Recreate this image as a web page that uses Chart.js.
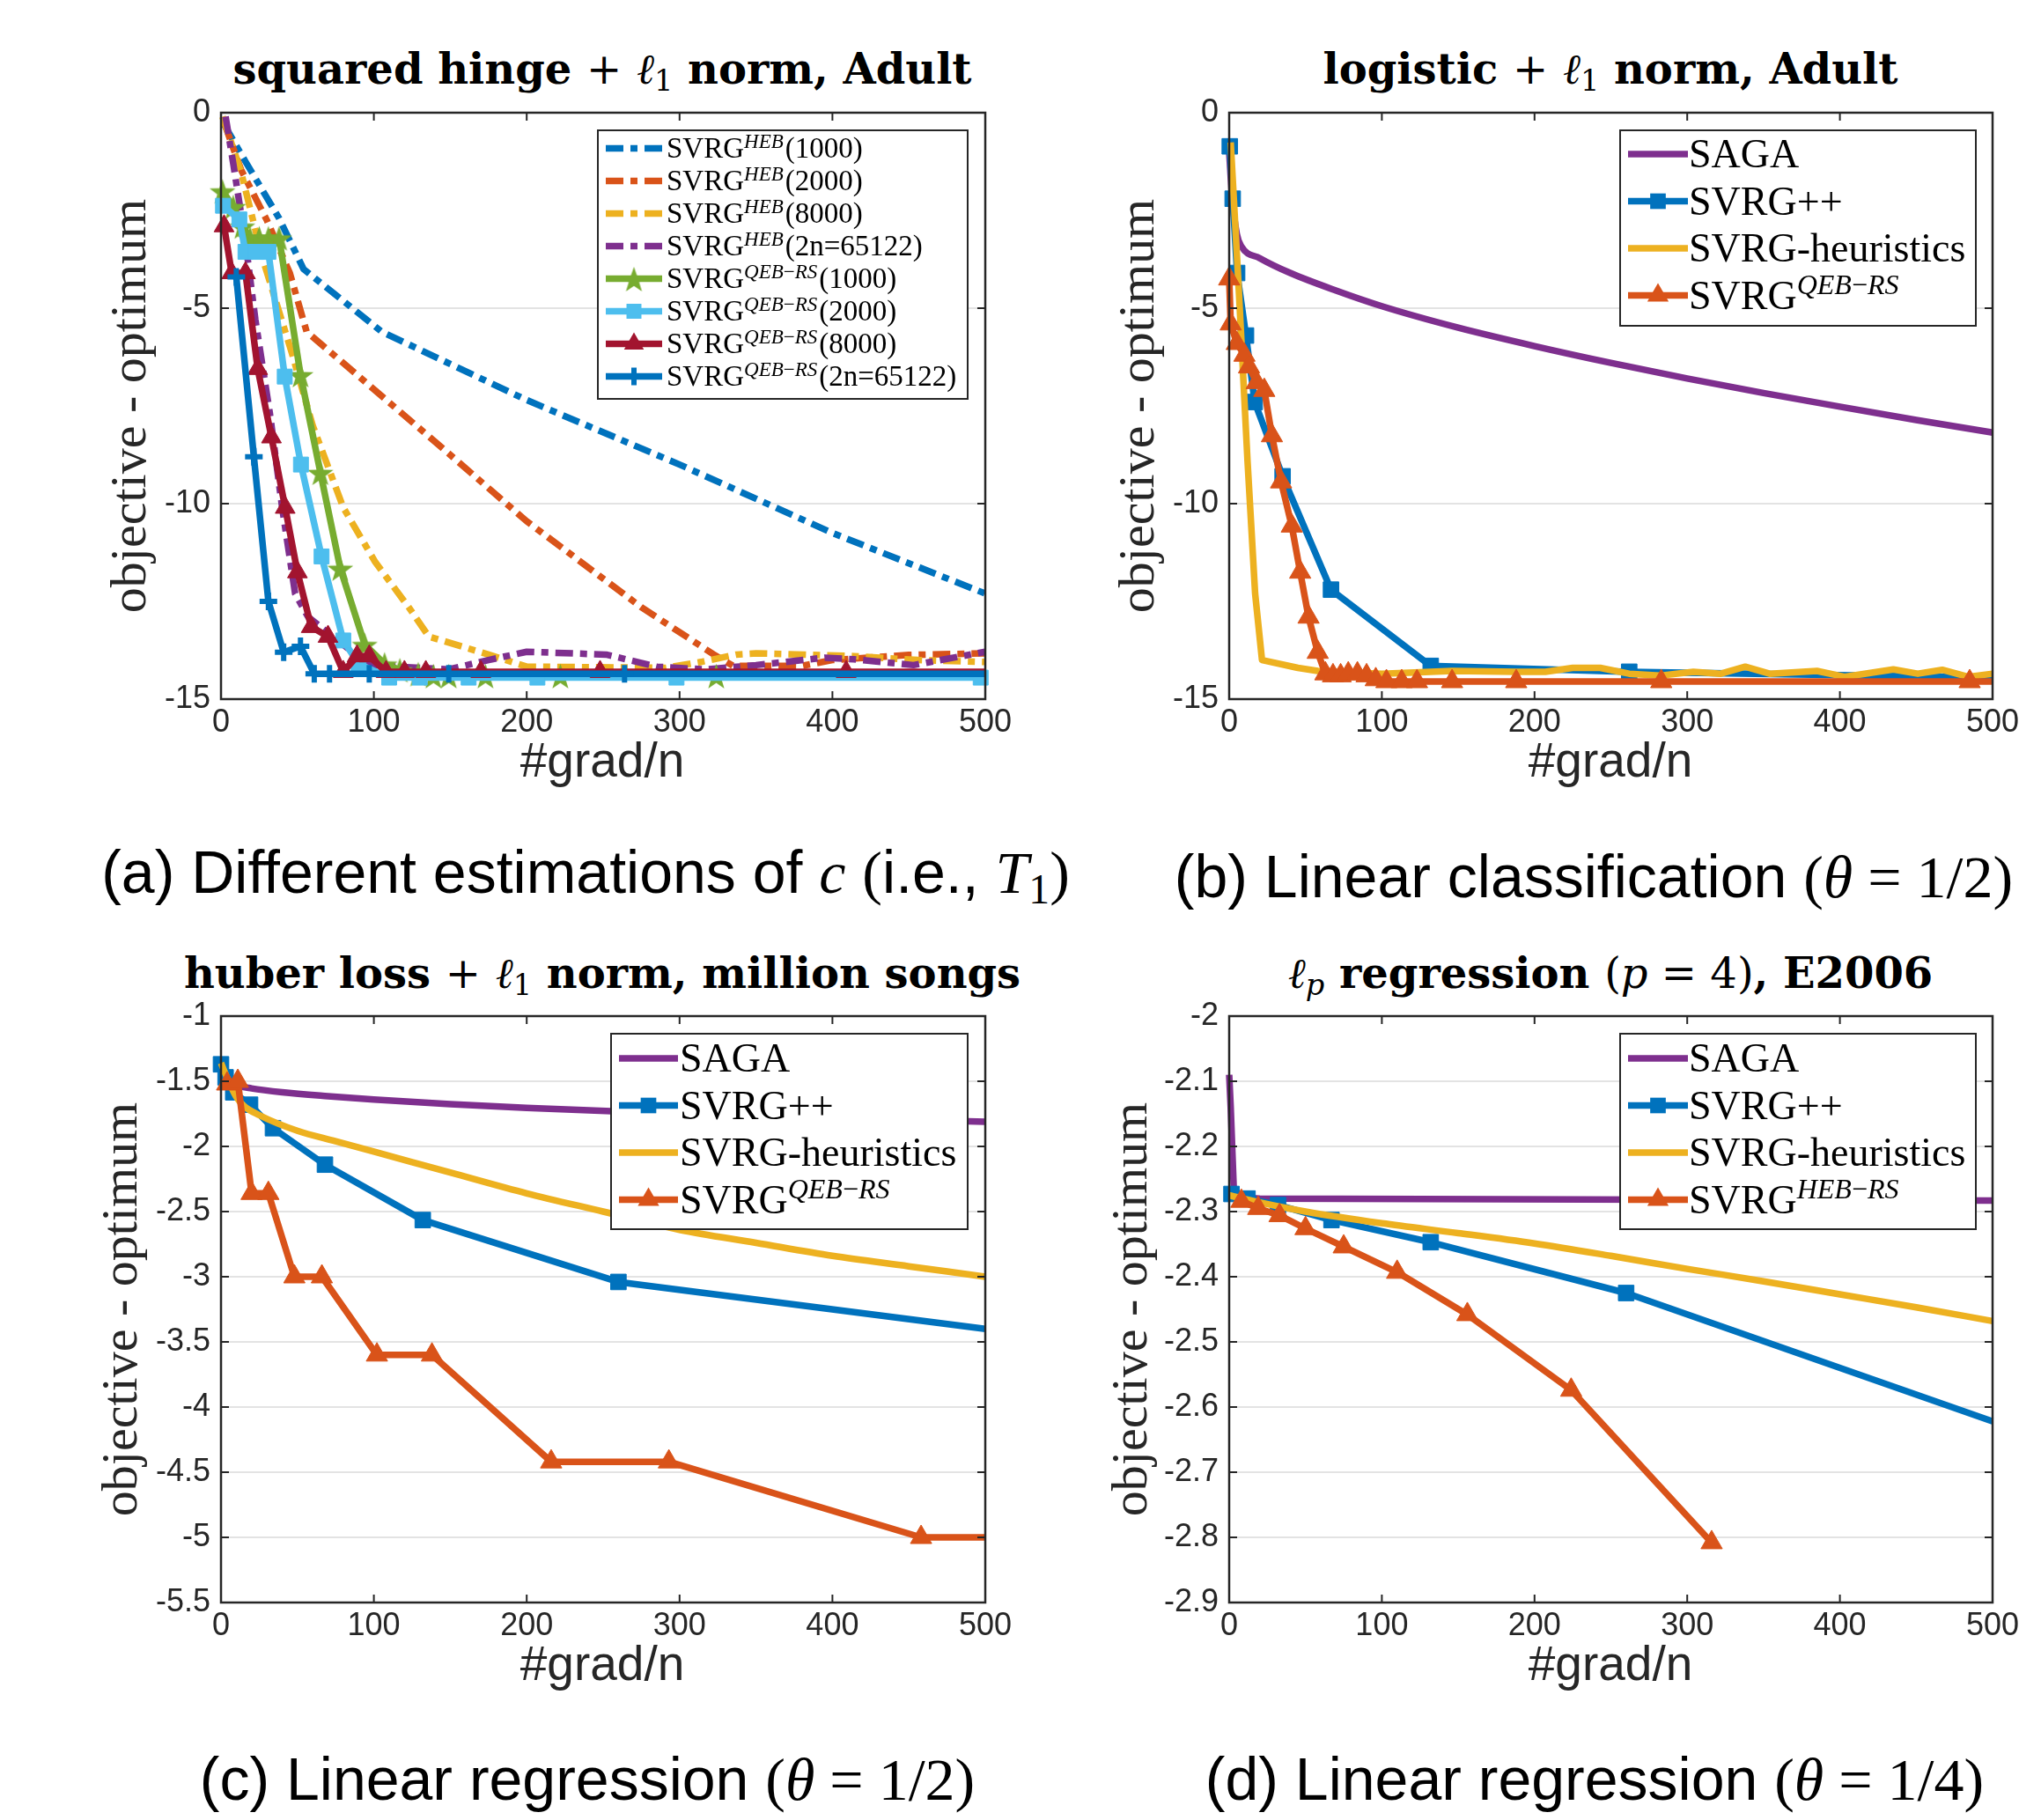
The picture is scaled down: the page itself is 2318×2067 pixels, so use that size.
<!DOCTYPE html>
<html><head><meta charset="utf-8">
<script src="https://cdn.jsdelivr.net/npm/chart.js@4.4.1/dist/chart.umd.min.js"></script>
<style>
html,body{margin:0;padding:0;background:#fff}
body{width:2318px;height:2067px;position:relative;overflow:hidden}
canvas{position:absolute}
.tx{position:absolute;white-space:nowrap;transform:translate(-50%,-50%);line-height:1;color:#000}
.title{font-family:"DejaVu Serif";font-weight:bold;font-size:48px}
.title .m{font-weight:normal}
.title .mi{font-weight:normal;font-style:italic}
.title sub{font-size:0.7em;font-weight:normal;vertical-align:-0.25em}
.ylab{font-family:"Liberation Serif";font-size:58px;color:#262626;transform:translate(-50%,-50%) rotate(-90deg)}
.xlab{font-family:"Liberation Sans";font-size:55px;color:#262626}
.cap{font-family:"Liberation Sans";font-size:68px}
.cap .s{font-family:"Liberation Serif"}
.cap sub{font-size:0.7em;vertical-align:-0.25em}
</style></head><body>
<div class="tx title" style="left:684px;top:81px">squared hinge <span class="m">+</span> <span class="mi">ℓ</span><sub>1</sub> norm, Adult</div>
<div class="tx title" style="left:1829px;top:81px">logistic <span class="m">+</span> <span class="mi">ℓ</span><sub>1</sub> norm, Adult</div>
<div class="tx title" style="left:684px;top:1108px">huber loss <span class="m">+</span> <span class="mi">ℓ</span><sub>1</sub> norm, million songs</div>
<div class="tx title" style="left:1829px;top:1108px"><span class="mi">ℓ</span><sub style="font-style:italic">p</sub> regression <span class="m">(<i>p</i> = 4)</span>, E2006</div>

<div class="tx ylab" style="left:146px;top:461px">objective - optimum</div>
<div class="tx ylab" style="left:1291px;top:461px">objective - optimum</div>
<div class="tx ylab" style="left:136px;top:1487px">objective - optimum</div>
<div class="tx ylab" style="left:1283px;top:1487px">objective - optimum</div>

<div class="tx xlab" style="left:684px;top:863px">#grad/n</div>
<div class="tx xlab" style="left:1829px;top:863px">#grad/n</div>
<div class="tx xlab" style="left:684px;top:1889px">#grad/n</div>
<div class="tx xlab" style="left:1829px;top:1889px">#grad/n</div>

<div class="tx cap" style="left:665px;top:995px">(a) Different estimations of <i class="s">c</i> <span class="s">(</span>i.e., <i class="s">T</i><sub class="s">1</sub><span class="s">)</span></div>
<div class="tx cap" style="left:1810px;top:995px">(b) Linear classification <span class="s">(<i>θ</i> = 1/2)</span></div>
<div class="tx cap" style="left:667px;top:2020px">(c) Linear regression <span class="s">(<i>θ</i> = 1/2)</span></div>
<div class="tx cap" style="left:1811px;top:2020px">(d) Linear regression <span class="s">(<i>θ</i> = 1/4)</span></div>

<script>
// ---------------- DATA ----------------
const X_TICKS = [0, 100, 200, 300, 400, 500];
const Y_TICKS_A = [0, -5, -10, -15];
const Y_TICKS_B = [0, -5, -10, -15];
const Y_TICKS_C = [-1, -1.5, -2, -2.5, -3, -3.5, -4, -4.5, -5, -5.5];
const Y_TICKS_D = [-2, -2.1, -2.2, -2.3, -2.4, -2.5, -2.6, -2.7, -2.8, -2.9];

// (a) squared hinge + l1, Adult
const A_HEB_1000 = [[2,-0.3],[16,-1.25],[38,-2.7],[54,-4.0],[105,-5.6],[200,-7.35],[300,-9.0],[400,-10.75],[500,-12.3]];
const A_HEB_2000 = [[2,-0.25],[13,-1.45],[30,-2.75],[45,-4.1],[56,-5.6],[144,-8.55],[200,-10.45],[275,-12.65],[322,-13.85],[335,-14.15],[380,-14.15],[400,-14.0],[450,-13.87],[500,-13.83]];
const A_HEB_8000 = [[1,-0.1],[13,-1.5],[27,-3.7],[46,-6.1],[60,-8.0],[80,-10.1],[101,-11.5],[123,-12.66],[136,-13.4],[175,-13.86],[200,-14.17],[291,-14.2],[314,-14.05],[337,-13.86],[350,-13.83],[382,-13.86],[414,-13.9],[456,-14.0],[500,-14.05]];
const A_HEB_2N = [[3,-0.1],[8,-1.3],[16,-3.3],[22.5,-5.3],[32,-7.7],[40,-10.1],[48.5,-12.3],[57,-12.9],[81,-13.64],[97,-14.13],[149,-14.24],[175,-14.0],[200,-13.79],[252,-13.86],[285,-14.17],[317,-14.24],[350,-14.13],[395,-13.94],[414,-13.98],[453,-14.13],[500,-13.79]];
const A_QEB_1000 = [[1,-2.0],[8,-2.4],[14,-2.9],[19,-3.2],[25,-3.2],[31,-3.2],[38,-3.2],[52,-6.7],[65,-9.2],[78,-11.65],[94,-13.6],[107,-14.1],[117,-14.25],[129,-14.35],[139,-14.4],[149,-14.4],[173,-14.4],[222,-14.4],[324,-14.4],[500,-14.35]];
const A_QEB_2000 = [[1.3,-2.38],[12,-2.73],[16,-3.56],[23,-3.56],[31,-3.56],[41.7,-6.75],[52.3,-9.0],[65.8,-11.35],[80,-13.5],[90,-14.1],[110,-14.45],[130,-14.45],[162,-14.45],[207,-14.45],[298,-14.45],[497,-14.45],[500,-14.45]];
const A_QEB_8000 = [[2,-2.9],[7,-4.1],[16,-4.1],[24,-6.55],[33,-8.3],[42,-10.1],[50,-11.75],[59,-13.15],[70,-13.4],[80,-14.3],[89,-13.9],[97,-13.9],[108,-14.3],[120,-14.3],[134,-14.3],[170,-14.3],[248,-14.3],[409,-14.3],[500,-14.3]];
const A_QEB_2N = [[10,-4.2],[21.5,-8.8],[31,-12.5],[41,-13.8],[52,-13.65],[61,-14.35],[71,-14.35],[97,-14.35],[149,-14.35],[264,-14.35],[500,-14.35]];

// (b) logistic + l1, Adult
const B_SAGA = [[0,-1.0],[2,-2.2],[5,-3.1],[8,-3.42],[20,-3.72],[40,-4.1],[70,-4.55],[100,-4.95],[150,-5.5],[200,-5.97],[250,-6.4],[300,-6.8],[350,-7.17],[400,-7.52],[450,-7.86],[500,-8.18]];
const B_SVRGPP = [[0.4,-0.86],[2.3,-2.2],[5.2,-4.1],[11,-5.7],[16.7,-7.4],[35,-9.3],[66.7,-12.2],[132,-14.15],[262,-14.3],[500,-14.45]];
const B_HEUR = [[1,-0.76],[6,-4.3],[12,-8.9],[17,-12.3],[21.5,-14.0],[45,-14.2],[58,-14.28],[100,-14.35],[146,-14.28],[188,-14.3],[207,-14.3],[225,-14.2],[243,-14.2],[262,-14.35],[282,-14.4],[304,-14.3],[322,-14.35],[338,-14.17],[354,-14.35],[385,-14.28],[403,-14.43],[435,-14.24],[451,-14.35],[467,-14.25],[484,-14.43],[500,-14.35]];
const B_QEB = [[0,-4.25],[1,-5.4],[5,-5.9],[10,-6.2],[13,-6.5],[18,-6.9],[23,-7.1],[28,-8.26],[34,-9.44],[41,-10.57],[46.5,-11.75],[52,-12.9],[58,-13.8],[63,-14.35],[68,-14.4],[73,-14.4],[78,-14.35],[84,-14.35],[90,-14.4],[96,-14.5],[103,-14.55],[113,-14.55],[123,-14.55],[146,-14.55],[188,-14.55],[283,-14.55],[485,-14.55],[500,-14.55]];

// (c) huber loss + l1, million songs
const C_SAGA = [[0,-1.38],[5,-1.5],[10,-1.53],[20,-1.555],[40,-1.585],[70,-1.615],[100,-1.64],[150,-1.675],[200,-1.705],[300,-1.75],[400,-1.78],[500,-1.81]];
const C_SVRGPP = [[0,-1.37],[3,-1.47],[8,-1.585],[19,-1.68],[34,-1.86],[68,-2.14],[132,-2.565],[260,-3.04],[500,-3.4]];
const C_HEUR = [[0,-1.36],[5,-1.5],[10,-1.62],[15,-1.69],[25,-1.76],[50,-1.88],[75,-1.96],[100,-2.04],[150,-2.2],[200,-2.36],[250,-2.5],[300,-2.64],[350,-2.74],[400,-2.84],[450,-2.92],[500,-3.0]];
const C_QEB = [[4,-1.52],[11,-1.5],[20,-2.36],[31,-2.36],[48,-3.0],[66,-3.0],[102,-3.6],[138,-3.6],[216,-4.42],[293,-4.42],[458,-5.0],[500,-5.0]];

// (d) lp regression (p=4), E2006
const D_SAGA = [[0,-2.09],[1,-2.14],[3,-2.265],[6,-2.278],[20,-2.28],[500,-2.283]];
const D_SVRGPP = [[1.5,-2.273],[12,-2.28],[32,-2.29],[67,-2.313],[132,-2.347],[260,-2.425],[500,-2.622]];
const D_HEUR = [[0,-2.275],[20,-2.286],[50,-2.3],[100,-2.318],[150,-2.333],[200,-2.349],[250,-2.368],[300,-2.388],[350,-2.407],[400,-2.427],[450,-2.447],[500,-2.468]];
const D_HEBRS = [[8,-2.284],[19,-2.295],[33,-2.306],[50,-2.326],[75,-2.354],[110,-2.393],[156,-2.458],[224,-2.574],[316,-2.808]];

// legend labels: [main, superscript, suffix]
const LEG_A = [['SVRG','HEB','(1000)'],['SVRG','HEB','(2000)'],['SVRG','HEB','(8000)'],['SVRG','HEB','(2n=65122)'],
               ['SVRG','QEB−RS','(1000)'],['SVRG','QEB−RS','(2000)'],['SVRG','QEB−RS','(8000)'],['SVRG','QEB−RS','(2n=65122)']];
const LEG_B = [['SAGA','',''],['SVRG++','',''],['SVRG-heuristics','',''],['SVRG','QEB−RS','']];
const LEG_C = [['SAGA','',''],['SVRG++','',''],['SVRG-heuristics','',''],['SVRG','QEB−RS','']];
const LEG_D = [['SAGA','',''],['SVRG++','',''],['SVRG-heuristics','',''],['SVRG','HEB−RS','']];

// ---------------- STYLE ----------------
const COL = {blue:'#0072BD', orange:'#D95319', yellow:'#EDB120', purple:'#7E2F8E', green:'#77AC30', cyan:'#4DBEEE', red:'#A2142F'};
const AX = '#262626';
const LW = 7.5;
const DASHDOT = [20,8,8,8];

function starCanvas(color, size){
  const c = document.createElement('canvas'); c.width = c.height = size;
  const g = c.getContext('2d'); g.fillStyle = color; g.beginPath();
  for (let i=0;i<10;i++){ const r = (i%2===0)? size/2 : size/2*0.40; const a = -Math.PI/2 + i*Math.PI/5;
    g.lineTo(size/2 + r*Math.cos(a), size/2 + 2 + r*Math.sin(a)); }
  g.closePath(); g.fill(); return c;
}

function mk(pts, color, o){
  o = o || {};
  const n = pts.length;
  const r = o.r || 0;
  const d = {
    data: pts.map(p=>({x:p[0], y:p[1]})),
    borderColor: color, backgroundColor: color, borderWidth: o.lw || LW,
    borderDash: o.dash || [], borderCapStyle: 'butt', borderJoinStyle: 'round',
    pointStyle: o.ps || 'circle',
    pointRadius: o.lastNo ? (c => c.dataIndex === n-1 ? 0 : r) : r,
    pointHoverRadius: 0, pointBorderWidth: o.pbw || 1,
    pointBackgroundColor: color, pointBorderColor: color,
    tension: 0, fill: false, clip: false, spanGaps: true
  };
  d._r = r;
  if (o.smooth) d.cubicInterpolationMode = 'monotone';
  return d;
}

// ---------------- PLUGINS ----------------
const boxPlugin = {
  id: 'mlBox',
  afterDraw(chart){
    const {ctx, chartArea:a, scales} = chart;
    ctx.save();
    ctx.strokeStyle = AX; ctx.lineWidth = 2.5; ctx.setLineDash([]);
    ctx.strokeRect(a.left, a.top, a.right-a.left, a.bottom-a.top);
    ctx.lineWidth = 2;
    const TL = 9;
    scales.x.ticks.forEach(t=>{ const px = scales.x.getPixelForValue(t.value);
      ctx.beginPath(); ctx.moveTo(px, a.bottom); ctx.lineTo(px, a.bottom-TL);
      ctx.moveTo(px, a.top); ctx.lineTo(px, a.top+TL); ctx.stroke(); });
    scales.y.ticks.forEach(t=>{ const py = scales.y.getPixelForValue(t.value);
      ctx.beginPath(); ctx.moveTo(a.left, py); ctx.lineTo(a.left+TL, py);
      ctx.moveTo(a.right, py); ctx.lineTo(a.right-TL, py); ctx.stroke(); });
    ctx.restore();
  }
};

function drawMarker(ctx, ds, x, y){
  const r = ds._r;
  if (!r) return;
  const ps = ds.pointStyle;
  ctx.save(); ctx.fillStyle = ds.pointBackgroundColor; ctx.strokeStyle = ds.pointBorderColor; ctx.setLineDash([]);
  if (typeof ps === 'object') { ctx.drawImage(ps, x-ps.width/2, y-ps.height/2); }
  else if (ps === 'rect') { const s = Math.SQRT1_2*r; ctx.fillRect(x-s, y-s, 2*s, 2*s); }
  else if (ps === 'triangle') { ctx.beginPath(); for (let i=0;i<3;i++){ const ang = i*2*Math.PI/3; ctx.lineTo(x+Math.sin(ang)*r, y-Math.cos(ang)*r);} ctx.closePath(); ctx.fill(); }
  else if (ps === 'cross') { ctx.lineWidth = ds.pointBorderWidth; ctx.beginPath(); ctx.moveTo(x-r,y); ctx.lineTo(x+r,y); ctx.moveTo(x,y-r); ctx.lineTo(x,y+r); ctx.stroke(); }
  ctx.restore();
}

const legendPlugin = {
  id: 'mlLegend',
  afterDatasetsDraw(chart){
    const L = chart.options.plugins.mlLegend; if (!L) return;
    const ctx = chart.ctx, ox = L.ox, oy = L.oy;
    ctx.save();
    const bx = L.box[0]-ox, by = L.box[1]-oy, bw = L.box[2]-L.box[0], bh = L.box[3]-L.box[1];
    ctx.fillStyle = '#fff'; ctx.fillRect(bx, by, bw, bh);
    ctx.strokeStyle = AX; ctx.lineWidth = 2; ctx.strokeRect(bx, by, bw, bh);
    L.labels.forEach((lab, i) => {
      const ds = chart.data.datasets[i];
      const cy = L.row0 + i*L.rowH - oy;
      const x1 = L.sample[0]-ox, x2 = L.sample[1]-ox;
      ctx.save(); ctx.strokeStyle = ds.borderColor; ctx.lineWidth = ds.borderWidth; ctx.lineCap = 'butt';
      ctx.setLineDash(ds.borderDash || []);
      ctx.beginPath(); ctx.moveTo(x1, cy); ctx.lineTo(x2, cy); ctx.stroke(); ctx.restore();
      drawMarker(ctx, ds, (x1+x2)/2, cy);
      const fs = L.fs, ss = Math.round(L.fs*0.7);
      let tx = L.textX - ox; const base = cy + fs*0.33;
      ctx.fillStyle = '#000'; ctx.textBaseline = 'alphabetic'; ctx.textAlign = 'left';
      ctx.font = fs + 'px "Liberation Serif"'; ctx.fillText(lab[0], tx, base); tx += ctx.measureText(lab[0]).width;
      if (lab[1]) {
        const parts = lab[1].split('−');
        parts.forEach((p, k) => {
          ctx.font = 'italic ' + ss + 'px "Liberation Serif"'; ctx.fillText(p, tx, base - fs*0.36); tx += ctx.measureText(p).width;
          if (k < parts.length-1) { ctx.font = ss + 'px "Liberation Serif"'; ctx.fillText('−', tx, base - fs*0.36); tx += ctx.measureText('−').width; }
        });
        tx += 2;
      }
      if (lab[2]) { ctx.font = fs + 'px "Liberation Serif"'; ctx.fillText(lab[2], tx, base); }
    });
    ctx.restore();
  }
};

// ---------------- CHART FACTORY ----------------
const PL = 150, PT = 40, PR = 50, PB = 70;
function makeChart(L, T, R, B, yMin, yMax, yTicks, datasets, legend){
  const cv = document.createElement('canvas');
  const W = R - L + PL + PR, H = B - T + PT + PB;
  cv.width = W; cv.height = H;
  cv.style.left = (L-PL)+'px'; cv.style.top = (T-PT)+'px';
  cv.style.width = W+'px'; cv.style.height = H+'px';
  document.body.appendChild(cv);
  legend.ox = L-PL; legend.oy = T-PT;
  const nDs = datasets.length;
  datasets.forEach((d,i)=>{ d.order = nDs - i; });
  return new Chart(cv.getContext('2d'), {
    type: 'line',
    data: { datasets },
    options: {
      responsive: false, animation: false, devicePixelRatio: 1,
      layout: { padding: { left: 0, top: PT, right: PR, bottom: 0 } },
      plugins: { legend: {display:false}, tooltip: {enabled:false}, title:{display:false}, mlLegend: legend },
      events: [],
      scales: {
        x: { type:'linear', min:0, max:500,
             afterBuildTicks: s => { s.ticks = X_TICKS.map(v=>({value:v})); },
             afterFit: s => { s.height = PB; },
             grid: { display:false, drawTicks:false }, border: { display:false },
             ticks: { autoSkip:false, maxRotation:0, padding:5, color:AX, font:{family:'Liberation Sans', size:36}, callback: v => String(v) } },
        y: { type:'linear', min:yMin, max:yMax,
             afterBuildTicks: s => { s.ticks = yTicks.map(v=>({value:v})); },
             afterFit: s => { s.width = PL; },
             grid: { color:'#e3e3e3', lineWidth:2, drawTicks:false }, border: { display:false },
             ticks: { autoSkip:false, padding:12, color:AX, font:{family:'Liberation Sans', size:36}, callback: v => String(v) } }
      }
    },
    plugins: [legendPlugin, boxPlugin]
  });
}

// ---------------- BUILD ----------------
const STAR = starCanvas(COL.green, 31);

const dsA = [
  mk(A_HEB_1000, COL.blue,   {dash:DASHDOT}),
  mk(A_HEB_2000, COL.orange, {dash:DASHDOT}),
  mk(A_HEB_8000, COL.yellow, {dash:DASHDOT}),
  mk(A_HEB_2N,   COL.purple, {dash:DASHDOT}),
  mk(A_QEB_1000, COL.green, {ps:STAR, r:13, lastNo:true}),
  mk(A_QEB_2000, COL.cyan,  {ps:'rect', r:12, lastNo:true}),
  mk(A_QEB_8000, COL.red,   {ps:'triangle', r:13, lastNo:true}),
  mk(A_QEB_2N,   COL.blue,  {ps:'cross', r:10, pbw:6, lastNo:true})
];
makeChart(251, 128, 1119, 794, -15, 0, Y_TICKS_A, dsA,
  {box:[679,148,1099,453], row0:168.5, rowH:37, sample:[688,752], textX:757, fs:33, labels:LEG_A});

const dsB = [
  mk(B_SAGA, COL.purple, {smooth:true}),
  mk(B_SVRGPP, COL.blue, {ps:'rect', r:12.5, lastNo:true}),
  mk(B_HEUR, COL.yellow),
  mk(B_QEB, COL.orange, {ps:'triangle', r:14, lastNo:true})
];
makeChart(1396, 128, 2263, 794, -15, 0, Y_TICKS_B, dsB,
  {box:[1840,148,2244,370], row0:175, rowH:53.5, sample:[1849,1917], textX:1918, fs:46, labels:LEG_B});

const dsC = [
  mk(C_SAGA, COL.purple, {smooth:true}),
  mk(C_SVRGPP, COL.blue, {ps:'rect', r:12.5, lastNo:true}),
  mk(C_HEUR, COL.yellow, {smooth:true}),
  mk(C_QEB, COL.orange, {ps:'triangle', r:14, lastNo:true})
];
makeChart(251, 1154, 1119, 1820, -5.5, -1, Y_TICKS_C, dsC,
  {box:[694,1174,1099,1396], row0:1202, rowH:53.5, sample:[703,770], textX:772, fs:46, labels:LEG_C});

const dsD = [
  mk(D_SAGA, COL.purple),
  mk(D_SVRGPP, COL.blue, {ps:'rect', r:12.5, lastNo:true}),
  mk(D_HEUR, COL.yellow, {smooth:true}),
  mk(D_HEBRS, COL.orange, {ps:'triangle', r:14})
];
makeChart(1396, 1154, 2263, 1820, -2.9, -2, Y_TICKS_D, dsD,
  {box:[1840,1174,2244,1396], row0:1202, rowH:53.5, sample:[1849,1917], textX:1918, fs:46, labels:LEG_D});
</script>
</body></html>
